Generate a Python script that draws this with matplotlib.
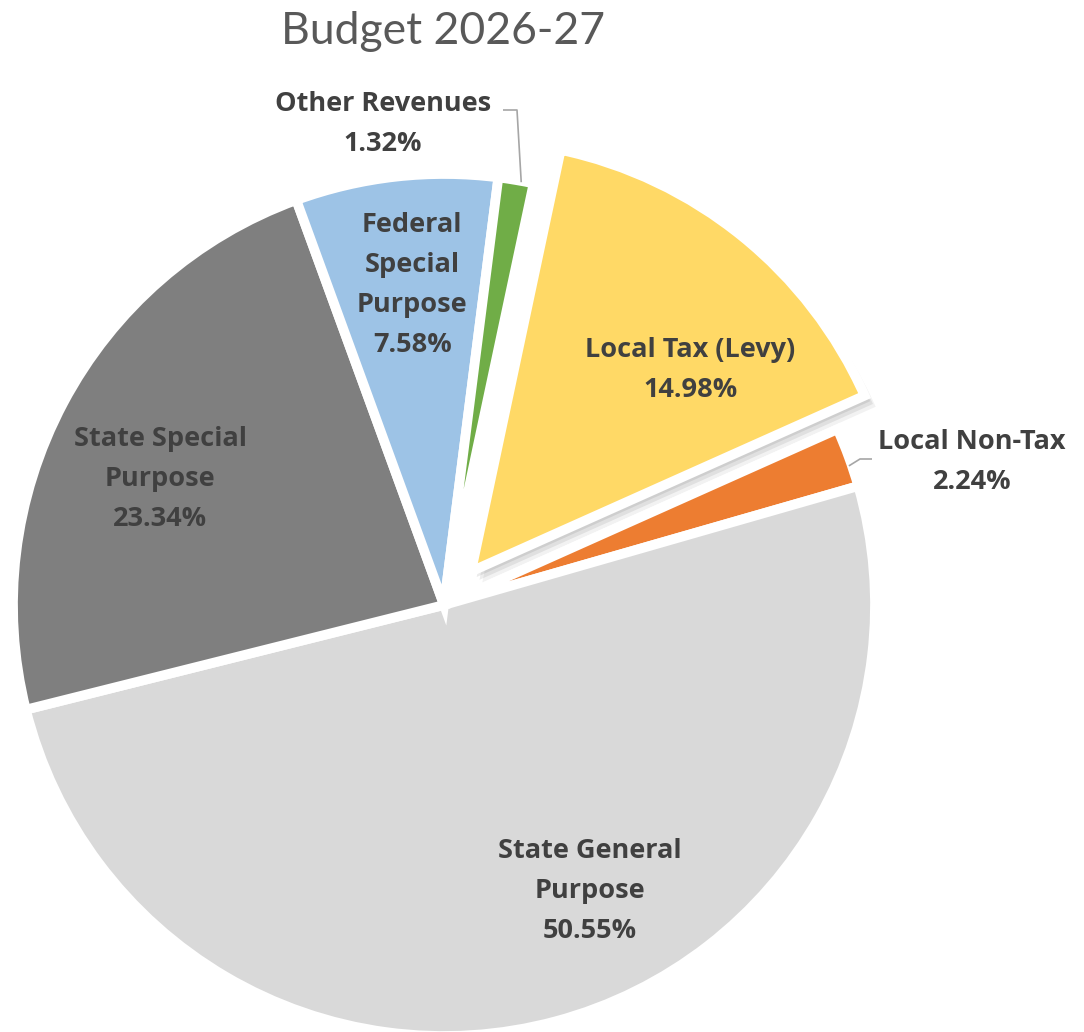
import numpy as np
import matplotlib
matplotlib.use("Agg")
import matplotlib.pyplot as plt
import matplotlib.patheffects as pe

plt.rcParams['font.family'] = ['Open Sans', 'DejaVu Sans']

# data
categories = ['Local Tax (Levy)', 'Local Non-Tax', 'State General\nPurpose',
              'State Special\nPurpose', 'Federal\nSpecial\nPurpose', 'Other Revenues']
shares = [14.98, 2.24, 50.55, 23.34, 7.58, 1.32]
colors = ['#FFD966', '#ED7D31', '#D9D9D9', '#7F7F7F', '#9DC3E6', '#70AD47']
explode = [0.1, 0, 0, 0, 0, 0]

# label placement (radius, angle nudge in deg) relative to each wedge centre
inside = {0: (0.69, -8.5), 2: (0.745, 12.0), 3: (0.72, 4.0), 4: (0.745, -0.7)}

R_PX = 431.0
CX, CY = 444.0, 605.0
W, H = 1084, 1032

fig = plt.figure(figsize=(W / 100, H / 100), dpi=100)
ax = fig.add_axes([0, 0, 1, 1])

wedges, _ = ax.pie(shares, colors=colors, explode=explode, startangle=78,
                   counterclock=False, radius=1.0,
                   wedgeprops=dict(edgecolor='white', linewidth=7))

# soft shadow under the exploded slice
wedges[0].set_path_effects([
    pe.SimplePatchShadow(offset=(8, -8), shadow_rgbFace='#000000', alpha=0.05),
    pe.SimplePatchShadow(offset=(6, -6), shadow_rgbFace='#000000', alpha=0.07),
    pe.SimplePatchShadow(offset=(4, -4), shadow_rgbFace='#000000', alpha=0.08),
    pe.Normal()])

def px2d(px, py):
    return (px - CX) / R_PX, (CY - py) / R_PX

ax.set_xlim(px2d(0, 0)[0], px2d(W, 0)[0])
ax.set_ylim(px2d(0, H)[1], px2d(0, 0)[1])
ax.set_aspect('equal')
ax.axis('off')

txt_kw = dict(ha='center', va='center', fontsize=19.5, fontweight='bold',
              color='#404040', linespacing=1.7)

for i, w in enumerate(wedges):
    pct = f"{shares[i]:.2f}%"
    if i in inside:
        r, nud = inside[i]
        ang = np.deg2rad((w.theta1 + w.theta2) / 2 + nud)
        cx, cy = w.center
        ax.text(cx + r * np.cos(ang), cy + r * np.sin(ang),
                categories[i] + "\n" + pct, **txt_kw)

# outside labels with leader lines
lead_kw = dict(color='#A6A6A6', lw=1.2, solid_capstyle='butt')

# Local Non-Tax
w = wedges[1]
ang = np.deg2rad((w.theta1 + w.theta2) / 2)
p0 = (np.cos(ang) * 1.0, np.sin(ang) * 1.0 - 0.02)
p1 = px2d(860, 459)
p2 = px2d(872, 459)
ax.plot([p0[0], p1[0], p2[0]], [p0[1], p1[1], p2[1]], **lead_kw)
tx, ty = px2d(972, 462)
ax.text(tx, ty, categories[1] + "\n" + f"{shares[1]:.2f}%", **txt_kw)

# Other Revenues
w = wedges[5]
ang = np.deg2rad((w.theta1 + w.theta2) / 2)
p0 = (np.cos(ang) * 1.0 + 0.012, np.sin(ang) * 1.0 - 0.005)
p1 = px2d(517, 110)
p2 = px2d(503, 110)
ax.plot([p0[0], p1[0], p2[0]], [p0[1], p1[1], p2[1]], **lead_kw)
tx, ty = px2d(383, 124)
ax.text(tx, ty, categories[5] + "\n" + f"{shares[5]:.2f}%", **txt_kw)

# title
tx, ty = px2d(443, 32)
ax.text(tx, ty, 'Budget 2026-27', ha='center', va='center', fontsize=32,
        color='#595959', family=['Lato', 'DejaVu Sans'])

fig.savefig('out.png', dpi=100, facecolor='white')
